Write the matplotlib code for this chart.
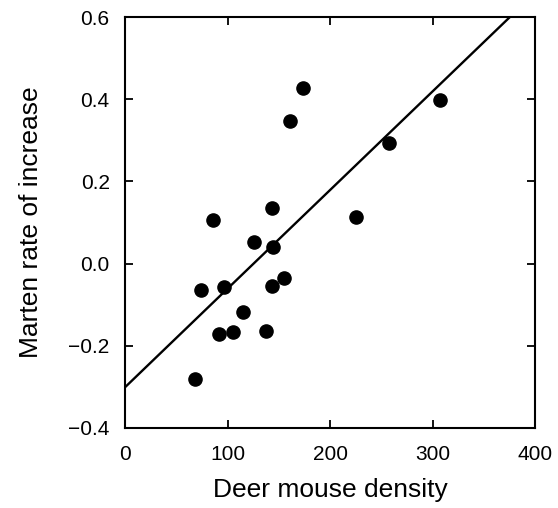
import matplotlib.pyplot as plt
import numpy as np

plt.rcParams["font.family"] = ["Liberation Sans", "DejaVu Sans"]

# deer mouse density vs marten rate of increase
density = [68, 74, 97, 92, 105, 115, 138, 143, 155, 86, 143, 126, 144,
           174, 161, 307, 257, 225]
rate = [-0.282, -0.064, -0.056, -0.171, -0.166, -0.117, -0.164, -0.054, -0.036,
        0.105, 0.135, 0.053, 0.041, 0.427, 0.347, 0.398, 0.293, 0.114]

# fitted regression line
intercept = -0.301
slope = 0.0024

fig = plt.figure(figsize=(5.58, 5.08), dpi=100)
ax = fig.add_axes([0.224, 0.1575, 0.735, 0.809])

xs = np.array([0, 400])
ax.plot(xs, intercept + slope * xs, color="black", lw=1.7, zorder=2)
ax.scatter(density, rate, s=90, color="black", zorder=3)

ax.set_xlim(0, 400)
ax.set_ylim(-0.4, 0.6)
ax.set_xticks([0, 100, 200, 300, 400])
ax.set_yticks([-0.4, -0.2, 0.0, 0.2, 0.4, 0.6])
ax.set_yticklabels(["\u22120.4", "\u22120.2", "0.0", "0.2", "0.4", "0.6"])

ax.tick_params(direction="in", length=6, width=1.3, labelsize=15,
               top=True, right=True)
ax.tick_params(axis="x", pad=12)
ax.tick_params(axis="y", pad=11)
for sp in ax.spines.values():
    sp.set_linewidth(1.5)

ax.set_xlabel("Deer mouse density", fontsize=19, labelpad=10)
ax.set_ylabel("Marten rate of increase", fontsize=19, labelpad=18)

fig.savefig("out.png", dpi=100)
